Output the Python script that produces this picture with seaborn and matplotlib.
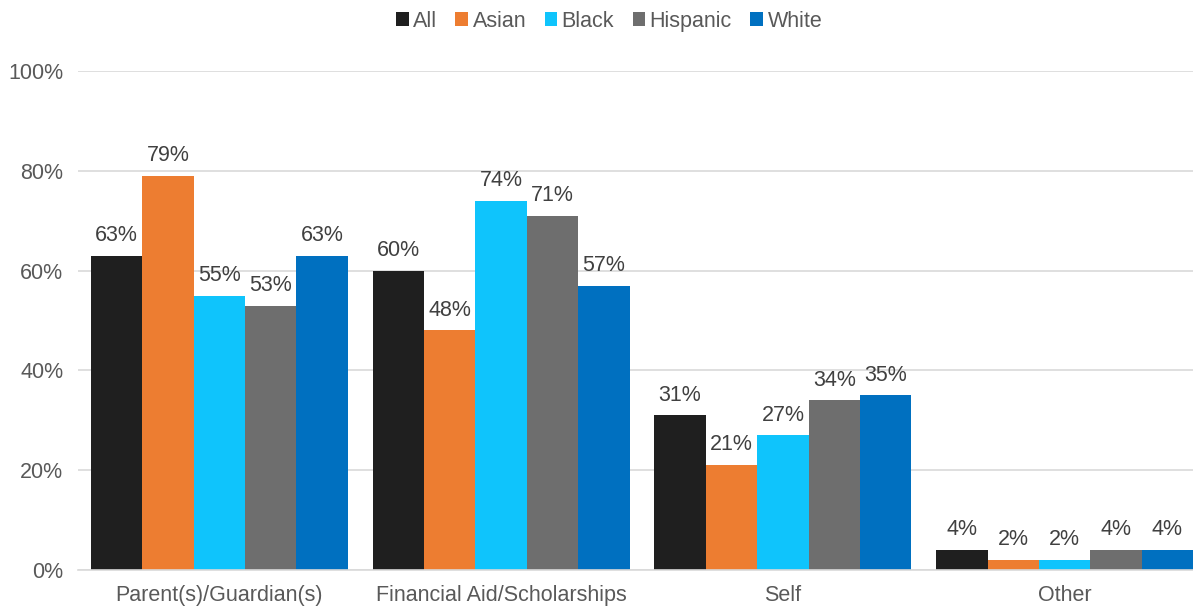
import matplotlib
matplotlib.use("Agg")
import matplotlib.pyplot as plt
import seaborn as sns
import pandas as pd

categories = ["Parent(s)/Guardian(s)", "Financial Aid/Scholarships", "Self", "Other"]
groups = ["All", "Asian", "Black", "Hispanic", "White"]
values_all = [63, 60, 31, 4]
values_asian = [79, 48, 21, 2]
values_black = [55, 74, 27, 2]
values_hispanic = [53, 71, 34, 4]
values_white = [63, 57, 35, 4]
yticks = [0, 20, 40, 60, 80, 100]

colors = ["#1f1f1f", "#ed7d31", "#0fc4fc", "#6e6e6e", "#0070c0"]

series = [values_all, values_asian, values_black, values_hispanic, values_white]
rows = []
for g, vals in zip(groups, series):
    for c, v in zip(categories, vals):
        rows.append({"Category": c, "Group": g, "Value": v})
df = pd.DataFrame(rows)

sns.set_theme(style="white")
plt.rcParams["font.family"] = ["Liberation Sans", "DejaVu Sans"]
text_color = "#595959"
label_color = "#404040"
fs = 15.5

fig = plt.figure(figsize=(11.93, 6.08), dpi=100)
ax = fig.add_axes([0.0658, 0.0625, 0.9447, 0.8207])

sns.barplot(data=df, x="Category", y="Value", hue="Group", order=categories,
            hue_order=groups, palette=colors, width=0.912, saturation=1,
            linewidth=0, ax=ax, legend=True)

for cont in ax.containers:
    ax.bar_label(cont, fmt="%d%%", padding=7, fontsize=fs, color=label_color)

ax.set_ylim(0, 100)
ax.set_xlim(-0.5, 3.5)
ax.set_yticks(yticks)
ax.set_yticklabels([f"{t}%" for t in yticks], fontsize=fs, color=text_color)
ax.tick_params(axis="x", labelsize=fs, colors=text_color, length=0, pad=11)
ax.tick_params(axis="y", length=0, pad=11)
ax.set_xlabel("")
ax.set_ylabel("")
ax.yaxis.grid(True, color="#d9d9d9", linewidth=1.2)
ax.set_axisbelow(True)
for s in ["top", "right", "left"]:
    ax.spines[s].set_visible(False)
ax.spines["bottom"].set_color("#d9d9d9")
ax.spines["bottom"].set_linewidth(1.2)

handles, labels = ax.get_legend_handles_labels()
ax.legend(handles, labels, loc="center", bbox_to_anchor=(0.4707, 1.1),
          ncol=5, frameon=False, fontsize=fs, labelcolor=text_color,
          handlelength=0.6, handleheight=0.6, handletextpad=0.2,
          columnspacing=0.85)

fig.savefig("out.png", dpi=100)
